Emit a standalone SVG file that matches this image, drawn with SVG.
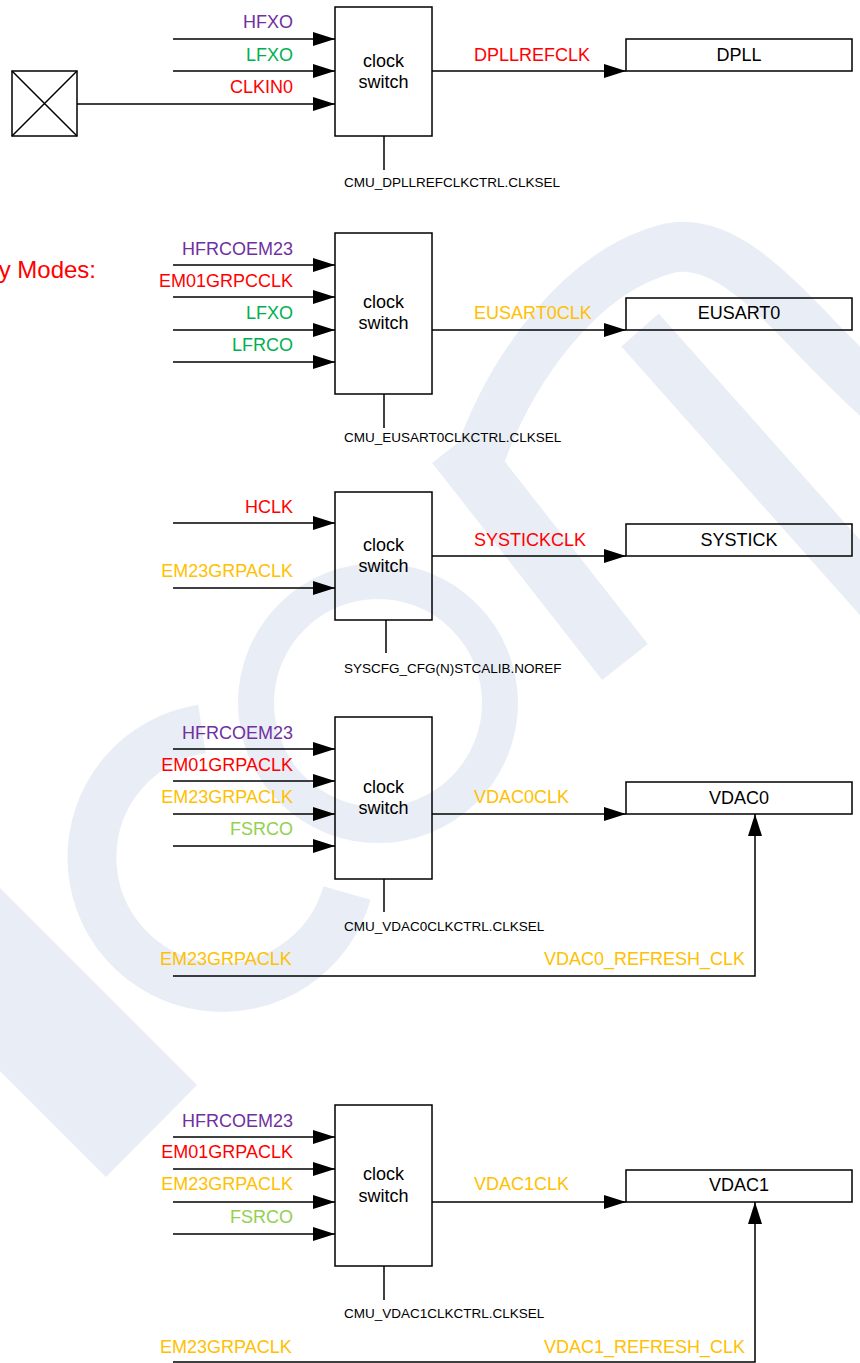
<svg xmlns="http://www.w3.org/2000/svg" width="860" height="1363" viewBox="0 0 860 1363">
<style>
text{font-family:"Liberation Sans",Arial,sans-serif;font-size:18px}
.box{fill:none;stroke:#000;stroke-width:1.5}
.ln{fill:none;stroke:#000;stroke-width:1.5}
.arr{marker-end:url(#ah)}
.lbl{text-anchor:end}
.c{text-anchor:middle;fill:#000}
.sel{font-size:13.5px;fill:#000}
.pu{fill:#7030A0}.gr{fill:#00B050}.rd{fill:#FF0000}.or{fill:#FFC000}.lg{fill:#92D050}
.wm{fill:none;stroke:#E9EEF6}
</style>
<defs>
<marker id="ah" markerUnits="userSpaceOnUse" markerWidth="22" markerHeight="14" refX="22" refY="7" orient="auto">
<path d="M0,0 L22,7 L0,14 z" fill="#000"/>
</marker>
</defs>
<rect width="860" height="1363" fill="#fff"/>

<g id="watermark">
<polygon points="0,888 197,1085 106,1177 0,1071" fill="#E9EEF6"/>
<path class="wm" stroke-width="49" d="M347,893 A130,130 0 1 1 202,729"/>
<circle class="wm" cx="378" cy="703" r="122" stroke-width="36"/>
<path class="wm" stroke-width="58" d="M625,662 L455,445"/>
<path class="wm" stroke-width="50" d="M478,462 C510,370 580,270 670,248 C740,235 800,330 880,400"/>
<path class="wm" stroke-width="50" d="M640,330 L880,600"/>
</g>

<text class="rd" x="96" y="278" style="font-size:24px;text-anchor:end">y Modes:</text>

<g id="connectors">
<path class="ln arr" d="M173,39 H335"/>
<path class="ln arr" d="M173,71 H335"/>
<path class="ln arr" d="M77,104 H335"/>
<path class="ln arr" d="M432,71 H626"/>
<path class="ln" d="M384,136 V170"/>

<path class="ln arr" d="M173,265 H335"/>
<path class="ln arr" d="M173,297 H335"/>
<path class="ln arr" d="M173,330 H335"/>
<path class="ln arr" d="M173,362 H335"/>
<path class="ln arr" d="M432,330 H626"/>
<path class="ln" d="M384,394 V428"/>

<path class="ln arr" d="M173,523 H335"/>
<path class="ln arr" d="M173,588 H335"/>
<path class="ln arr" d="M432,556 H626"/>
<path class="ln" d="M386,620 V653"/>

<path class="ln arr" d="M173,749 H335"/>
<path class="ln arr" d="M173,781 H335"/>
<path class="ln arr" d="M173,814 H335"/>
<path class="ln arr" d="M173,846 H335"/>
<path class="ln arr" d="M432,814 H626"/>
<path class="ln" d="M384,879 V912"/>
<path class="ln arr" d="M173,976 H755 V814"/>

<path class="ln arr" d="M173,1137 H335"/>
<path class="ln arr" d="M173,1169 H335"/>
<path class="ln arr" d="M173,1202 H335"/>
<path class="ln arr" d="M173,1234 H335"/>
<path class="ln arr" d="M432,1202 H626"/>
<path class="ln" d="M384,1266 V1300"/>
<path class="ln arr" d="M173,1362 H755 V1202"/>
</g>

<g id="labels">
<text class="lbl pu" x="293" y="28">HFXO</text>
<text class="lbl gr" x="293" y="61">LFXO</text>
<text class="lbl rd" x="293" y="93">CLKIN0</text>
<text class="rd" x="474" y="61">DPLLREFCLK</text>
<text class="sel" x="344" y="187">CMU_DPLLREFCLKCTRL.CLKSEL</text>

<text class="lbl pu" x="293" y="255">HFRCOEM23</text>
<text class="lbl rd" x="293" y="287">EM01GRPCCLK</text>
<text class="lbl gr" x="293" y="319">LFXO</text>
<text class="lbl gr" x="293" y="351">LFRCO</text>
<text class="or" x="474" y="319">EUSART0CLK</text>
<text class="sel" x="344" y="442">CMU_EUSART0CLKCTRL.CLKSEL</text>

<text class="lbl rd" x="293" y="513">HCLK</text>
<text class="lbl or" x="293" y="577">EM23GRPACLK</text>
<text class="rd" x="474" y="546">SYSTICKCLK</text>
<text class="sel" x="344" y="673">SYSCFG_CFG(N)STCALIB.NOREF</text>

<text class="lbl pu" x="293" y="739">HFRCOEM23</text>
<text class="lbl rd" x="293" y="771">EM01GRPACLK</text>
<text class="lbl or" x="293" y="803">EM23GRPACLK</text>
<text class="lbl lg" x="293" y="835">FSRCO</text>
<text class="or" x="474" y="803">VDAC0CLK</text>
<text class="sel" x="344" y="931">CMU_VDAC0CLKCTRL.CLKSEL</text>
<text class="or" x="160" y="965">EM23GRPACLK</text>
<text class="lbl or" x="745" y="965">VDAC0_REFRESH_CLK</text>

<text class="lbl pu" x="293" y="1127">HFRCOEM23</text>
<text class="lbl rd" x="293" y="1158">EM01GRPACLK</text>
<text class="lbl or" x="293" y="1190">EM23GRPACLK</text>
<text class="lbl lg" x="293" y="1223">FSRCO</text>
<text class="or" x="474" y="1190">VDAC1CLK</text>
<text class="sel" x="344" y="1318">CMU_VDAC1CLKCTRL.CLKSEL</text>
<text class="or" x="160" y="1353">EM23GRPACLK</text>
<text class="lbl or" x="745" y="1353">VDAC1_REFRESH_CLK</text>
</g>

<g id="pad">
<rect class="box" x="12" y="71" width="65" height="65"/>
<path class="ln" d="M12,71 L77,136 M77,71 L12,136"/>
</g>

<g id="switch1"><rect class="box" x="335" y="7" width="97" height="129"/><text class="c" x="383.5" y="67">clock</text><text class="c" x="383.5" y="88">switch</text></g>
<g id="dpll"><rect class="box" x="626" y="39" width="226" height="32"/><text class="c" x="739" y="61">DPLL</text></g>

<g id="switch2"><rect class="box" x="335" y="233" width="97" height="161"/><text class="c" x="383.5" y="308">clock</text><text class="c" x="383.5" y="329">switch</text></g>
<g id="eusart0"><rect class="box" x="626" y="298" width="226" height="32"/><text class="c" x="739" y="319">EUSART0</text></g>

<g id="switch3"><rect class="box" x="335" y="492" width="97" height="128"/><text class="c" x="383.5" y="551">clock</text><text class="c" x="383.5" y="572">switch</text></g>
<g id="systick"><rect class="box" x="626" y="524" width="226" height="32"/><text class="c" x="739" y="546">SYSTICK</text></g>

<g id="switch4"><rect class="box" x="335" y="717" width="97" height="162"/><text class="c" x="383.5" y="793">clock</text><text class="c" x="383.5" y="814">switch</text></g>
<g id="vdac0"><rect class="box" x="626" y="782" width="226" height="32"/><text class="c" x="739" y="804">VDAC0</text></g>

<g id="switch5"><rect class="box" x="335" y="1105" width="97" height="161"/><text class="c" x="383.5" y="1180">clock</text><text class="c" x="383.5" y="1202">switch</text></g>
<g id="vdac1"><rect class="box" x="626" y="1170" width="226" height="32"/><text class="c" x="739" y="1191">VDAC1</text></g>
</svg>
